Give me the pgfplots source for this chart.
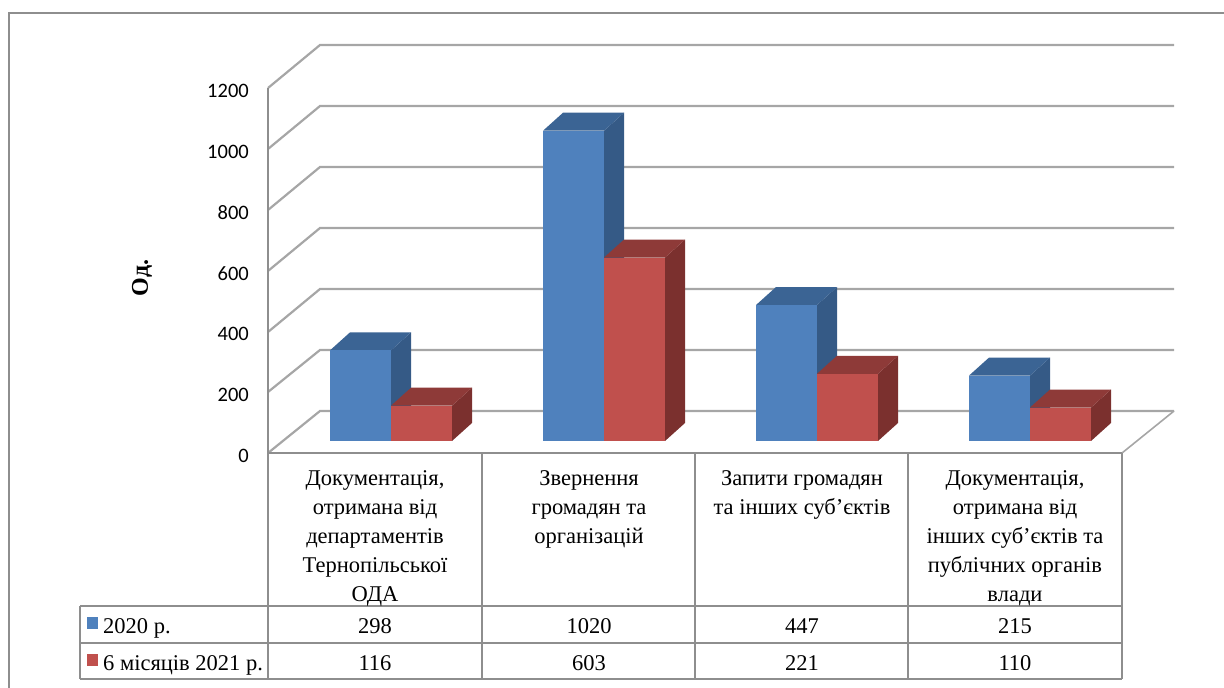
\documentclass[border=0pt]{standalone}
\usepackage{pgfplots}
\pgfplotsset{compat=1.18}
\usepackage{fontspec}
\setmainfont{Liberation Serif}
\newfontfamily\tickfont{Carlito}

\definecolor{lineA}{HTML}{8E8E8E}
\definecolor{gridA}{HTML}{A6A6A6}
\definecolor{blueF}{HTML}{4F81BD}
\definecolor{blueT}{HTML}{3B6494}
\definecolor{blueS}{HTML}{355A86}
\definecolor{redF}{HTML}{C0504D}
\definecolor{redT}{HTML}{8E3A38}
\definecolor{redS}{HTML}{7B302E}

% Bar floor sits 12pt above the axis zero and the bars are 20pt x 18pt deep;
% both heights are given here in value units (365pt span 1200 units)
\def\floorV{39.45}
\def\depthV{59.18}
\newcommand{\solidbar}[5]{%
  \pgfmathsetmacro{\xL}{#1}
  \pgfmathsetmacro{\xR}{#1+61}
  \pgfmathsetmacro{\yB}{\floorV}
  \pgfmathsetmacro{\yT}{\floorV+#2}
  \pgfmathsetmacro{\xRd}{\xR+20}
  \pgfmathsetmacro{\xLd}{\xL+20}
  \pgfmathsetmacro{\yBd}{\yB+\depthV}
  \pgfmathsetmacro{\yTd}{\yT+\depthV}
  \addplot[fill=#5,draw=none] coordinates {(\xR,\yB) (\xRd,\yBd) (\xRd,\yTd) (\xR,\yT)};
  \addplot[fill=#4,draw=none] coordinates {(\xL,\yT) (\xR,\yT) (\xRd,\yTd) (\xLd,\yTd)};
  \addplot[fill=#3,draw=none] coordinates {(\xL,\yB) (\xR,\yB) (\xR,\yT) (\xL,\yT)};
}
\newcommand{\bodytext}{\fontsize{22.5}{29}\selectfont}

\begin{document}
\begin{tikzpicture}[x=1pt,y=1pt]
\path[use as bounding box] (0,0) rectangle (1224,688);

% Frame, walls, floor and data table, laid out in a top-down grid
\begin{axis}[
  at={(0,0)},anchor=south west,
  scale only axis,width=1224pt,height=688pt,
  xmin=0,xmax=1224,ymin=0,ymax=688,y dir=reverse,
  hide axis,clip=false,no markers,
]
\draw[lineA,line width=1.6pt] (axis cs:9,688) -- (axis cs:9,13) -- (axis cs:1224,13);

% back wall and side wall gridlines
\foreach \yb/\yf in {45/88,106/149,167/210,228/271,289/332,350/392,411/453}{
  \edef\tmp{\noexpand\draw[gridA,line width=2.2pt,line join=miter]
    (axis cs:268,\yf) -- (axis cs:320,\yb) -- (axis cs:1174,\yb);}
  \tmp
}
\draw[gridA,line width=1.6pt] (axis cs:1122,453) -- (axis cs:1174,411);

% table rules
\draw[lineA,line width=1.6pt] (axis cs:268,453) -- (axis cs:1122,453);
\draw[lineA,line width=1.6pt] (axis cs:80,606) -- (axis cs:1122,606);
\draw[lineA,line width=1.6pt] (axis cs:80,643) -- (axis cs:1122,643);
\draw[lineA,line width=1.6pt] (axis cs:80,679) -- (axis cs:1122,679);
\draw[lineA,line width=1.6pt] (axis cs:80,606) -- (axis cs:80,679);
\foreach \xc in {268,482,695,908,1122}{
  \edef\tmp{\noexpand\draw[lineA,line width=1.6pt] (axis cs:\xc,453) -- (axis cs:\xc,679);}
  \tmp
}

% category names
\node[align=center,anchor=north,inner sep=0pt,font=\bodytext] at (axis cs:375,470)
  {Документація,\\отримана від\\департаментів\\Тернопільської\\ОДА};
\node[align=center,anchor=north,inner sep=0pt,font=\bodytext] at (axis cs:589,470)
  {Звернення\\громадян та\\організацій};
\node[align=center,anchor=north,inner sep=0pt,font=\bodytext] at (axis cs:802,470)
  {Запити громадян\\та інших суб’єктів};
\node[align=center,anchor=north,inner sep=0pt,font=\bodytext] at (axis cs:1015,470)
  {Документація,\\отримана від\\інших суб’єктів та\\публічних органів\\влади};

% table values
\foreach \xc/\va/\vb in {375/298/116,589/1020/603,802/447/221,1015/215/110}{
  \edef\tmp{\noexpand\node[anchor=base,font=\noexpand\bodytext,inner sep=0pt] at (axis cs:\xc,633) {\va};
            \noexpand\node[anchor=base,font=\noexpand\bodytext,inner sep=0pt] at (axis cs:\xc,670) {\vb};}
  \tmp
}

% series keys
\fill[blueF] (axis cs:87,617) rectangle (axis cs:98,629);
\fill[redF] (axis cs:87,654) rectangle (axis cs:98,666);
\node[anchor=base west,inner sep=0pt,font=\bodytext] at (axis cs:103,633) {2020 р.};
\node[anchor=base west,inner sep=0pt,font=\bodytext] at (axis cs:103,670) {6 місяців 2021 р.};

% value axis title
\node[rotate=90,inner sep=0pt,font=\fontsize{24}{28}\selectfont\bfseries] at (axis cs:142,278) {Од.};
\end{axis}

% Value axis and solid bars
\begin{axis}[
  at={(268pt,235pt)},anchor=south west,
  scale only axis,width=854pt,height=365pt,
  xmin=268,xmax=1122,ymin=0,ymax=1200,
  axis x line=none,axis y line=left,
  y axis line style={-,draw=lineA,line width=1.6pt},
  ytick={0,200,400,600,800,1000,1200},
  major tick length=0pt,
  /pgf/number format/assume math mode=true,
  /pgf/number format/1000 sep={},
  yticklabel style={font=\tickfont\fontsize{20.5}{24}\selectfont,inner sep=0pt},
  tick label style={xshift=-19pt,yshift=-3pt},
  clip=false,no markers,
]
\solidbar{330}{298}{blueF}{blueT}{blueS}
\solidbar{391}{116}{redF}{redT}{redS}
\solidbar{543}{1020}{blueF}{blueT}{blueS}
\solidbar{604}{603}{redF}{redT}{redS}
\solidbar{756}{447}{blueF}{blueT}{blueS}
\solidbar{817}{221}{redF}{redT}{redS}
\solidbar{969}{215}{blueF}{blueT}{blueS}
\solidbar{1030}{110}{redF}{redT}{redS}
\end{axis}
\end{tikzpicture}
\end{document}
